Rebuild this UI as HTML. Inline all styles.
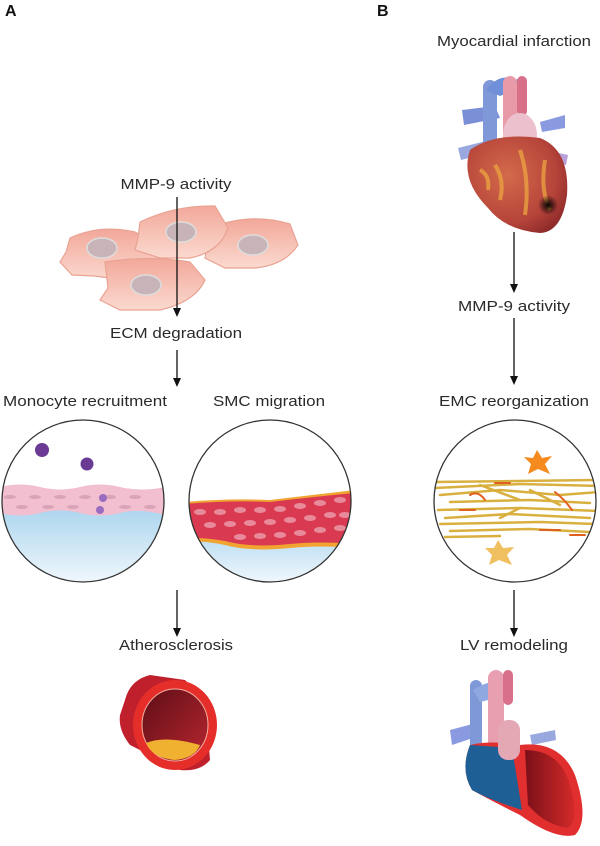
<!DOCTYPE html>
<html><head><meta charset="utf-8"><style>
html,body{margin:0;padding:0;background:#fff;}
svg{display:block;}
text{font-family:"Liberation Sans",sans-serif;fill:#2a2a2a;}
</style></head><body>
<svg width="600" height="846" viewBox="0 0 600 846" xmlns="http://www.w3.org/2000/svg">
<defs>
<linearGradient id="blue" x1="0" y1="0" x2="0" y2="1"><stop offset="0" stop-color="#a9d4ee"/><stop offset="1" stop-color="#f2f8fc"/></linearGradient>
<linearGradient id="cell" x1="0" y1="0" x2="0" y2="1"><stop offset="0" stop-color="#f2a89a"/><stop offset="1" stop-color="#fbd9cf"/></linearGradient>
<radialGradient id="heart" cx="0.4" cy="0.4" r="0.7"><stop offset="0" stop-color="#d36a4a"/><stop offset="0.7" stop-color="#b6443a"/><stop offset="1" stop-color="#8e2a2a"/></radialGradient>
<radialGradient id="inf" cx="0.5" cy="0.5" r="0.5"><stop offset="0" stop-color="#000"/><stop offset="1" stop-color="#000" stop-opacity="0"/></radialGradient>
<linearGradient id="lv" x1="0" y1="0" x2="1" y2="0"><stop offset="0" stop-color="#7a1018"/><stop offset="1" stop-color="#d42a2a"/></linearGradient>
<linearGradient id="vin" x1="0" y1="0" x2="1" y2="1"><stop offset="0" stop-color="#5e0e16"/><stop offset="1" stop-color="#b82630"/></linearGradient>
<clipPath id="c1"><circle cx="83" cy="501" r="81"/></clipPath>
<clipPath id="c2"><circle cx="270" cy="501" r="81"/></clipPath>
<clipPath id="c3"><circle cx="515" cy="501" r="81"/></clipPath>
</defs>

<text x="5" y="16" font-size="16" font-weight="bold" style="fill:#111">A</text>
<text x="377" y="16" font-size="16" font-weight="bold" style="fill:#111">B</text>

<!-- Cells -->
<g stroke="#e9a393" stroke-width="1.2" fill="url(#cell)">
<path d="M70,238 Q100,224 135,232 Q160,245 165,270 L150,280 Q120,280 95,276 L72,275 L60,262 L66,252 Z"/>
<path d="M210,228 Q250,212 290,224 L298,245 Q285,265 255,268 L225,268 L205,258 Z"/>
<path d="M105,262 Q150,255 190,262 L205,280 Q195,302 160,310 L120,310 L100,300 L108,288 Z"/>
<path d="M140,222 Q175,205 215,206 L228,228 Q220,252 190,258 L160,258 L135,250 L138,238 Z"/>
</g>
<g fill="#c8b4b8" stroke="#ddd" stroke-width="1.5">
<ellipse cx="102" cy="248" rx="15" ry="10"/>
<ellipse cx="181" cy="232" rx="15" ry="10"/>
<ellipse cx="253" cy="245" rx="15" ry="10"/>
<ellipse cx="146" cy="285" rx="15" ry="10"/>
</g>

<text x="176" y="189" font-size="15" text-anchor="middle" textLength="111" lengthAdjust="spacingAndGlyphs">MMP-9 activity</text>
<line x1="177" y1="197" x2="177" y2="308" stroke="#111" stroke-width="1.3"/>
<path d="M173,308 L181,308 L177,317 Z" fill="#111"/>
<text x="176" y="338" font-size="15" text-anchor="middle" textLength="132" lengthAdjust="spacingAndGlyphs">ECM degradation</text>
<line x1="177" y1="350" x2="177" y2="378" stroke="#111" stroke-width="1.3"/>
<path d="M173,378 L181,378 L177,387 Z" fill="#111"/>

<text x="3" y="406" font-size="15" textLength="164" lengthAdjust="spacingAndGlyphs">Monocyte recruitment</text>
<text x="213" y="406" font-size="15" textLength="112" lengthAdjust="spacingAndGlyphs">SMC migration</text>

<!-- circle 1 -->
<g clip-path="url(#c1)">
<rect x="0" y="505" width="170" height="80" fill="url(#blue)"/>
<path d="M0,487 Q20,482 40,487 T80,487 T120,487 T165,487 L165,515 Q140,508 120,513 T80,513 T40,513 T0,513 Z" fill="#f2bfd0"/>
<g fill="#d9a3b8">
<ellipse cx="10" cy="497" rx="6" ry="2"/><ellipse cx="35" cy="497" rx="6" ry="2"/><ellipse cx="60" cy="497" rx="6" ry="2"/><ellipse cx="85" cy="497" rx="6" ry="2"/><ellipse cx="110" cy="497" rx="6" ry="2"/><ellipse cx="135" cy="497" rx="6" ry="2"/>
<ellipse cx="22" cy="507" rx="6" ry="2"/><ellipse cx="48" cy="507" rx="6" ry="2"/><ellipse cx="73" cy="507" rx="6" ry="2"/><ellipse cx="125" cy="507" rx="6" ry="2"/><ellipse cx="150" cy="507" rx="6" ry="2"/>
</g>
<circle cx="42" cy="450" r="7" fill="#6a3a95"/><circle cx="87" cy="464" r="6.5" fill="#6a3a95"/>
<circle cx="103" cy="498" r="4" fill="#9a6cc0"/><circle cx="100" cy="510" r="4" fill="#9a6cc0"/>
</g>
<circle cx="83" cy="501" r="81" fill="none" stroke="#333" stroke-width="1.3"/>

<!-- circle 2 -->
<g clip-path="url(#c2)">
<rect x="185" y="520" width="170" height="65" fill="url(#blue)"/>
<path d="M185,502 Q230,498 270,500 Q320,494 355,490 L355,548 Q320,545 290,548 Q250,552 225,545 Q200,540 185,542 Z" fill="#f2a430"/>
<path d="M185,504 Q230,500 270,502 Q320,496 355,493 L355,544 Q320,541 290,544 Q250,548 225,541 Q200,537 185,538 Z" fill="#d93a52"/>
<g fill="#e98a9a">
<ellipse cx="200" cy="512" rx="6" ry="3"/><ellipse cx="220" cy="512" rx="6" ry="3"/><ellipse cx="240" cy="510" rx="6" ry="3"/><ellipse cx="260" cy="510" rx="6" ry="3"/><ellipse cx="280" cy="509" rx="6" ry="3"/><ellipse cx="300" cy="506" rx="6" ry="3"/><ellipse cx="320" cy="503" rx="6" ry="3"/><ellipse cx="340" cy="500" rx="6" ry="3"/>
<ellipse cx="210" cy="525" rx="6" ry="3"/><ellipse cx="230" cy="524" rx="6" ry="3"/><ellipse cx="250" cy="523" rx="6" ry="3"/><ellipse cx="270" cy="522" rx="6" ry="3"/><ellipse cx="290" cy="520" rx="6" ry="3"/><ellipse cx="310" cy="518" rx="6" ry="3"/><ellipse cx="330" cy="515" rx="6" ry="3"/><ellipse cx="345" cy="515" rx="6" ry="3"/>
<ellipse cx="240" cy="537" rx="6" ry="3"/><ellipse cx="260" cy="536" rx="6" ry="3"/><ellipse cx="280" cy="535" rx="6" ry="3"/><ellipse cx="300" cy="533" rx="6" ry="3"/><ellipse cx="320" cy="530" rx="6" ry="3"/><ellipse cx="340" cy="528" rx="6" ry="3"/>
</g>
</g>
<circle cx="270" cy="501" r="81" fill="none" stroke="#333" stroke-width="1.3"/>

<line x1="177" y1="590" x2="177" y2="628" stroke="#111" stroke-width="1.3"/>
<path d="M173,628 L181,628 L177,637 Z" fill="#111"/>
<text x="176" y="650" font-size="15" text-anchor="middle" textLength="114" lengthAdjust="spacingAndGlyphs">Atherosclerosis</text>

<!-- vessel -->
<g>
<path d="M125,700 Q130,680 150,675 L185,680 L205,700 L210,760 Q200,772 180,770 L130,745 Q118,730 120,715 Z" fill="#c0202c"/>
<ellipse cx="175" cy="725" rx="42" ry="45" fill="#e52e2a"/>
<ellipse cx="175" cy="725" rx="33" ry="36" fill="url(#vin)" stroke="#f3b0a0" stroke-width="1"/>
<path d="M146,743 Q165,735 200,745 Q195,758 175,760 Q152,758 146,743 Z" fill="#f0b030"/>
</g>

<!-- Right panel -->
<text x="514" y="46" font-size="15" text-anchor="middle" textLength="154" lengthAdjust="spacingAndGlyphs">Myocardial infarction</text>
<g>
<path d="M462,110 L495,106 L500,118 L464,125 Z" fill="#7b8fd6"/>
<path d="M458,148 L490,140 L492,152 L461,160 Z" fill="#9aa8e0"/>
<path d="M540,122 L565,115 L565,128 L542,132 Z" fill="#8a9ae0"/>
<path d="M545,150 L568,155 L566,165 L545,160 Z" fill="#b8a0d8"/>
<rect x="483" y="80" width="14" height="95" rx="7" fill="#7f98d8"/>
<path d="M486,90 Q500,72 515,80 L520,78 L525,86 L500,96 Z" fill="#6f8fd8"/>
<rect x="503" y="76" width="14" height="72" rx="7" fill="#e89aa8"/>
<rect x="517" y="76" width="10" height="40" rx="5" fill="#d8708a"/>
<ellipse cx="520" cy="135" rx="17" ry="22" fill="#ecc0cc"/>
<path d="M470,150 Q495,132 540,138 Q570,150 567,195 Q562,232 540,233 Q505,230 488,208 Q460,180 470,150 Z" fill="url(#heart)"/>
<path d="M495,165 Q505,180 500,200 M520,150 Q530,180 525,215 M545,160 Q540,190 550,210 M480,170 Q490,175 488,190" stroke="#e8a040" stroke-width="4" fill="none" opacity="0.8"/>
<ellipse cx="548" cy="205" rx="10" ry="10" fill="url(#inf)"/>
</g>
<line x1="514" y1="232" x2="514" y2="284" stroke="#111" stroke-width="1.3"/>
<path d="M510,284 L518,284 L514,293 Z" fill="#111"/>
<text x="514" y="311" font-size="15" text-anchor="middle" textLength="112" lengthAdjust="spacingAndGlyphs">MMP-9 activity</text>
<line x1="514" y1="318" x2="514" y2="376" stroke="#111" stroke-width="1.3"/>
<path d="M510,376 L518,376 L514,385 Z" fill="#111"/>
<text x="514" y="406" font-size="15" text-anchor="middle" textLength="150" lengthAdjust="spacingAndGlyphs">EMC reorganization</text>

<!-- circle 3 -->
<g clip-path="url(#c3)" stroke-linecap="round" fill="none">
<g stroke="#d9b040" stroke-width="2.5">
<path d="M435,482 L600,480"/><path d="M435,488 L520,484 L600,486"/><path d="M440,495 L500,490 L560,495 L600,492"/>
<path d="M450,502 L530,500 L590,503"/><path d="M438,510 L520,508 L600,511"/><path d="M445,518 L510,514 L590,518"/>
<path d="M440,524 L540,522 L595,524"/><path d="M450,531 L530,529 L590,532"/><path d="M445,537 L500,536"/>
<path d="M480,485 L520,500"/><path d="M530,490 L560,505"/><path d="M500,518 L520,508"/>
</g>
<g stroke="#e06020" stroke-width="2">
<path d="M470,495 Q478,490 485,500"/><path d="M555,492 Q565,500 572,510"/><path d="M460,510 L475,510"/><path d="M540,530 L560,530"/><path d="M495,483 L510,483"/><path d="M570,535 L585,535"/>
</g>
<path d="M537,450 L542,458 L552,456 L545,464 L550,474 L538,469 L528,474 L531,464 L524,457 L533,458 Z" fill="#f58a1e"/>
<path d="M498,540 L503,548 L514,547 L507,555 L512,565 L499,560 L489,565 L492,555 L485,548 L494,548 Z" fill="#f0c060"/>
</g>
<circle cx="515" cy="501" r="81" fill="none" stroke="#333" stroke-width="1.3"/>

<line x1="514" y1="590" x2="514" y2="628" stroke="#111" stroke-width="1.3"/>
<path d="M510,628 L518,628 L514,637 Z" fill="#111"/>
<text x="514" y="650" font-size="15" text-anchor="middle" textLength="108" lengthAdjust="spacingAndGlyphs">LV remodeling</text>

<!-- heart 2 -->
<g>
<path d="M450,730 L480,722 L482,735 L452,745 Z" fill="#8a9ae0"/>
<path d="M530,735 L555,730 L556,740 L532,745 Z" fill="#9aa8e0"/>
<rect x="470" y="680" width="12" height="75" rx="6" fill="#7f98d8"/>
<path d="M473,690 Q495,676 510,684 L512,694 L480,702 Z" fill="#8fa8e0"/>
<rect x="488" y="670" width="16" height="110" rx="8" fill="#e8a0b0"/>
<rect x="503" y="670" width="10" height="35" rx="5" fill="#d8708a"/>
<path d="M470,745 Q490,740 520,745 Q560,740 575,775 Q590,820 575,835 Q555,840 520,815 Q490,800 472,790 Q460,770 470,745 Z" fill="#e12e2e"/>
<path d="M470,745 L512,748 L522,810 Q490,800 472,790 Q460,770 470,745 Z" fill="#1e5f95"/>
<path d="M525,750 Q560,750 570,785 Q580,820 568,828 Q545,825 528,805 Z" fill="url(#lv)"/>
<rect x="498" y="720" width="22" height="40" rx="10" fill="#e4a8b4"/>
</g>
</svg>
</body></html>
